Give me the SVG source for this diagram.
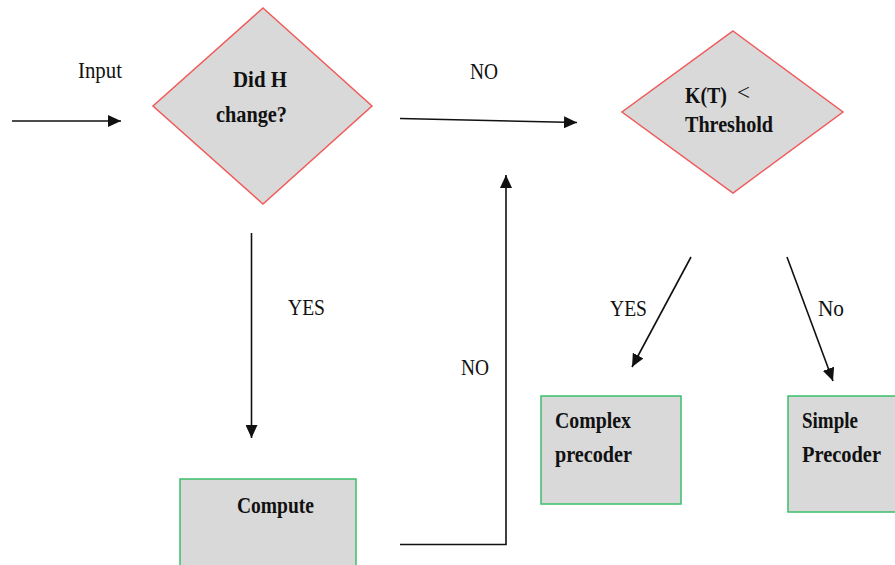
<svg xmlns="http://www.w3.org/2000/svg" width="895" height="565" viewBox="0 0 895 565">
<style>
.dia{fill:#d9d9d9;stroke:#f05a5a;stroke-width:1.5}
.box{fill:#d9d9d9;stroke:#3cbf6a;stroke-width:1.5}
.lbl{font-family:"Liberation Serif","Times New Roman",serif;font-weight:bold;font-size:23.5px;fill:#111}
.edge{font-family:"Liberation Serif","Times New Roman",serif;font-size:23px;fill:#111}
.con{stroke:#111;stroke-width:1.6;fill:none}
</style>
<defs>
<marker id="ah" markerUnits="userSpaceOnUse" markerWidth="14" markerHeight="12" refX="13" refY="6" orient="auto">
<path d="M0,0 L13,6 L0,12 Z" fill="#111"/>
</marker>
</defs>
<rect width="895" height="565" fill="#fff"/>
<g id="connectors">
<line class="con" x1="12" y1="121" x2="121" y2="121" marker-end="url(#ah)"/>
<line class="con" x1="400" y1="118.5" x2="577" y2="122.5" marker-end="url(#ah)"/>
<line class="con" x1="251.5" y1="233" x2="251.5" y2="438" marker-end="url(#ah)"/>
<polyline class="con" points="400,544.5 506,544.5 506,175" marker-end="url(#ah)"/>
<line class="con" x1="691" y1="257" x2="632" y2="367" marker-end="url(#ah)"/>
<line class="con" x1="787" y1="257" x2="833" y2="381" marker-end="url(#ah)"/>
<text class="edge" x="78" y="78" textLength="44" lengthAdjust="spacingAndGlyphs">Input</text>
<text class="edge" x="470" y="79" textLength="28" lengthAdjust="spacingAndGlyphs">NO</text>
<text class="edge" x="288" y="315" textLength="37" lengthAdjust="spacingAndGlyphs">YES</text>
<text class="edge" x="461" y="375" textLength="28" lengthAdjust="spacingAndGlyphs">NO</text>
<text class="edge" x="610" y="316" textLength="37" lengthAdjust="spacingAndGlyphs">YES</text>
<text class="edge" x="818" y="316" textLength="26" lengthAdjust="spacingAndGlyphs">No</text>
</g>
<g id="did-h-change">
<polygon class="dia" points="263,8 372,106 263,204 153,106"/>
<text class="lbl" x="233" y="87" textLength="54" lengthAdjust="spacingAndGlyphs">Did H</text>
<text class="lbl" x="216" y="122" textLength="71" lengthAdjust="spacingAndGlyphs">change?</text>
</g>
<g id="kt-threshold">
<polygon class="dia" points="733,31 843,112 733,193 622,112"/>
<text class="lbl" x="685" y="103" textLength="42" lengthAdjust="spacingAndGlyphs">K(T)</text>
<text class="edge" x="737" y="100" font-size="18px">&lt;</text>
<text class="lbl" x="685" y="132" textLength="88" lengthAdjust="spacingAndGlyphs">Threshold</text>
</g>
<g id="compute">
<rect class="box" x="180" y="479" width="176" height="100"/>
<text class="lbl" x="237" y="513" textLength="77" lengthAdjust="spacingAndGlyphs">Compute</text>
</g>
<g id="complex-precoder">
<rect class="box" x="541" y="396" width="140" height="108"/>
<text class="lbl" x="555" y="428" textLength="76" lengthAdjust="spacingAndGlyphs">Complex</text>
<text class="lbl" x="555" y="462" textLength="77" lengthAdjust="spacingAndGlyphs">precoder</text>
</g>
<g id="simple-precoder">
<rect class="box" x="788" y="396" width="110" height="116"/>
<text class="lbl" x="802" y="428" textLength="56" lengthAdjust="spacingAndGlyphs">Simple</text>
<text class="lbl" x="802" y="462" textLength="79" lengthAdjust="spacingAndGlyphs">Precoder</text>
</g>
</svg>
